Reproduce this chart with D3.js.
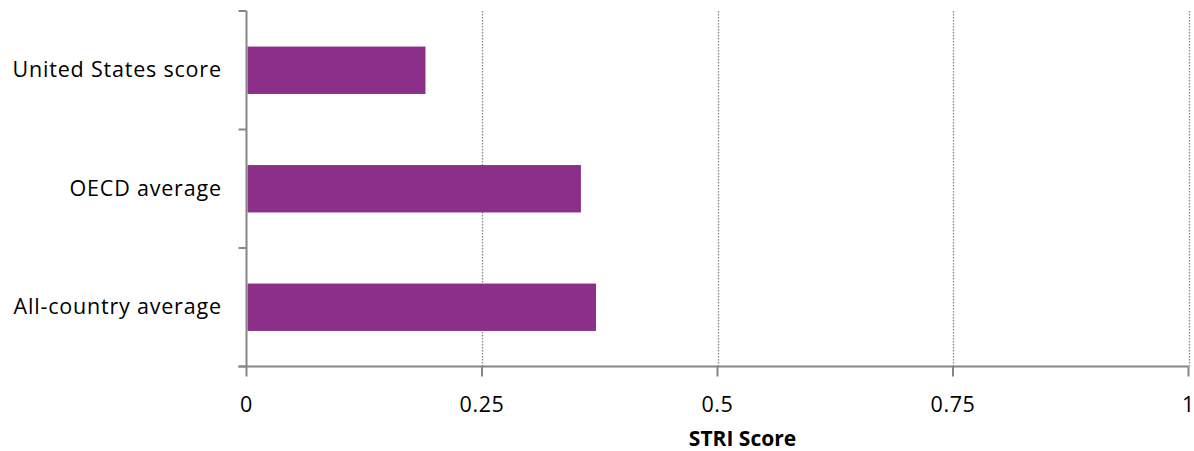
<!DOCTYPE html>
<html>
<head>
<meta charset="utf-8">
<script src="https://cdn.jsdelivr.net/npm/d3@7"></script>
<style>
  html, body { margin: 0; padding: 0; background: #fff; }
  svg { display: block; }
  text { font-family: "Open Sans", Lato, sans-serif; fill: #000; }
</style>
</head>
<body>
<svg id="chart" width="1194" height="451"></svg>
<script>
// STRI scores by group
const categories = ["United States score", "OECD average", "All-country average"];
const scores = [0.19, 0.355, 0.371];
const xTicks = [0, 0.25, 0.5, 0.75, 1];
const xTickLabels = ["0", "0.25", "0.5", "0.75", "1"];
const xTitle = "STRI Score";

const svg = d3.select("#chart");
const plotLeft = 246.5, plotRight = 1188.5, plotTop = 11, plotBottom = 366.5;
const axisColor = "#868686";

const x = d3.scaleLinear().domain([0, 1]).range([plotLeft, plotRight]);
const y = d3.scaleBand().domain(categories).range([plotTop, plotBottom])
  .paddingInner(0.6).paddingOuter(0.3);

// dotted vertical gridlines
svg.append("g").selectAll("line")
  .data(xTicks.filter(d => d > 0))
  .join("line")
  .attr("x1", d => Math.round(x(d)) + 0.5)
  .attr("x2", d => Math.round(x(d)) + 0.5)
  .attr("y1", plotTop)
  .attr("y2", plotBottom)
  .attr("stroke", axisColor)
  .attr("stroke-width", 1.3)
  .attr("stroke-dasharray", "1.5,1.5");

// bars
svg.append("g").selectAll("rect")
  .data(categories)
  .join("rect")
  .attr("x", x(0) + 1)
  .attr("y", d => y(d))
  .attr("width", (d, i) => x(scores[i]) - x(0) - 1)
  .attr("height", y.bandwidth())
  .attr("fill", "#8b2f8b");

// y axis: line with ticks at category boundaries
const yAxis = svg.append("g");
yAxis.append("line")
  .attr("x1", plotLeft).attr("x2", plotLeft)
  .attr("y1", plotTop).attr("y2", plotBottom)
  .attr("stroke", axisColor).attr("stroke-width", 2);
const step = y.step();
const boundaries = d3.range(categories.length + 1).map(i => plotTop + i * step);
yAxis.selectAll("line.tick")
  .data(boundaries)
  .join("line")
  .attr("class", "tick")
  .attr("x1", plotLeft - 8).attr("x2", plotLeft)
  .attr("y1", d => d).attr("y2", d => d)
  .attr("stroke", axisColor).attr("stroke-width", 2);
yAxis.selectAll("text")
  .data(categories)
  .join("text")
  .attr("x", 221.8)
  .attr("y", d => y(d) + y.bandwidth() / 2 + 7)
  .attr("text-anchor", "end")
  .style("font-size", "21.5px")
  .style("letter-spacing", "0.8px")
  .text(d => d);

// x axis
const xAxis = svg.append("g");
xAxis.append("line")
  .attr("x1", plotLeft - 8).attr("x2", plotRight)
  .attr("y1", plotBottom).attr("y2", plotBottom)
  .attr("stroke", axisColor).attr("stroke-width", 2);
xAxis.selectAll("line.tick")
  .data(xTicks)
  .join("line")
  .attr("class", "tick")
  .attr("x1", d => x(d)).attr("x2", d => x(d))
  .attr("y1", plotBottom).attr("y2", plotBottom + 10)
  .attr("stroke", axisColor).attr("stroke-width", 2);
xAxis.selectAll("text")
  .data(xTicks)
  .join("text")
  .attr("x", d => x(d))
  .attr("y", 411.5)
  .attr("text-anchor", "middle")
  .style("font-size", "21.5px")
  .style("letter-spacing", "0.6px")
  .text((d, i) => xTickLabels[i]);

svg.append("text")
  .attr("x", 742.5)
  .attr("y", 446)
  .attr("text-anchor", "middle")
  .style("font-size", "21px")
  .style("font-weight", "bold")
  .text(xTitle);
</script>
</body>
</html>
